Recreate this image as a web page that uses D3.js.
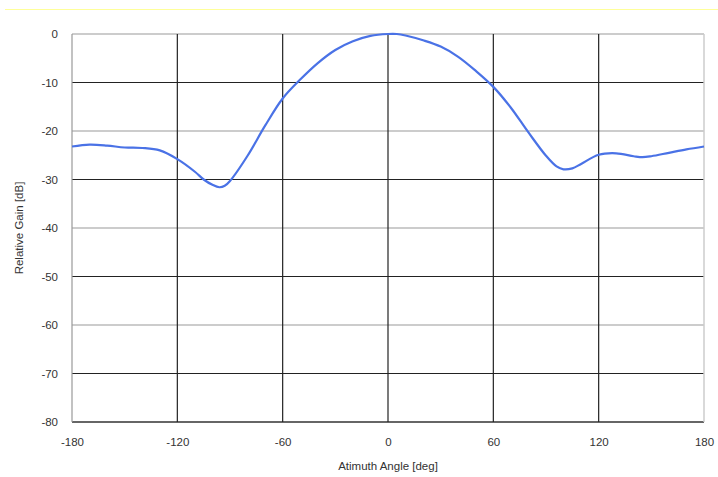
<!DOCTYPE html>
<html><head><meta charset="utf-8">
<script src="https://cdn.jsdelivr.net/npm/d3@7"></script>
<style>body{margin:0;background:#fff}svg{display:block}</style>
</head><body>
<svg id="c" width="718" height="477"></svg>
<script>
const angles = [-180,-170,-160,-150,-140,-130,-120,-110,-105,-100,-96,-93,-90,-80,-70,-60,-50,-40,-30,-20,-10,0,5,10,20,30,40,50,60,70,80,90,96,100,105,110,120,130,140,145,150,160,170,180];
const gains  = [-23.2,-22.8,-23.0,-23.4,-23.5,-24.0,-25.8,-28.4,-30.0,-31.1,-31.6,-31.3,-30.3,-25.1,-18.9,-13.3,-9.4,-6.0,-3.3,-1.5,-0.4,0,0,-0.3,-1.3,-2.6,-4.7,-7.6,-10.9,-15.2,-20.3,-25.1,-27.3,-27.9,-27.7,-26.8,-24.9,-24.6,-25.2,-25.4,-25.2,-24.5,-23.8,-23.2];
const xTicks = [-180,-120,-60,0,60,120,180];
const yTicks = [0,-10,-20,-30,-40,-50,-60,-70,-80];

const svg = d3.select("#c");
const L=72,R=704,T=34,B=422;
const x = d3.scaleLinear().domain([-180,180]).range([L,R]);
const y = d3.scaleLinear().domain([-80,0]).range([B,T]);
const font = "'Liberation Sans', Arial, sans-serif";

svg.append("line").attr("x1",5).attr("x2",718).attr("y1",9.5).attr("y2",9.5).attr("stroke","#ffff99").attr("stroke-width",1);

// horizontal grid
yTicks.forEach(v=>{
  let col = (v%20===0) ? "#999" : "#222";
  if (v===-80) col="#333";
  svg.append("line").attr("x1",L).attr("x2",R).attr("y1",y(v)).attr("y2",y(v))
    .attr("stroke",col).attr("stroke-width",v===-80?1.5:1.2);
});
// vertical grid
xTicks.forEach(v=>{
  let col = "#222";
  if (v===-180) col="#999";
  if (v===180) col="#ccc";
  svg.append("line").attr("x1",x(v)).attr("x2",x(v)).attr("y1",T).attr("y2",B)
    .attr("stroke",col).attr("stroke-width",v===180?1.5:1.2);
});

const line = d3.line().x((d,i)=>x(angles[i])).y((d,i)=>y(gains[i])).curve(d3.curveCatmullRom.alpha(0.5));
svg.append("path").datum(gains).attr("d",line).attr("fill","none").attr("stroke","#4a72e6").attr("stroke-width",2.2);

const yAxis = d3.axisLeft(y).tickValues(yTicks).tickSize(0).tickPadding(14).tickFormat(d=>String(d).replace("−","-"));
const gy = svg.append("g").attr("transform",`translate(${L},0)`).call(yAxis);
gy.select(".domain").remove();
gy.selectAll("text").attr("font-family",font).attr("font-size",11.5).attr("fill","#333");

const xAxis = d3.axisBottom(x).tickValues(xTicks).tickSize(0).tickPadding(16).tickFormat(d=>String(d).replace("−","-"));
const gx = svg.append("g").attr("transform",`translate(0,${B})`).call(xAxis);
gx.select(".domain").remove();
gx.selectAll("text").attr("font-family",font).attr("font-size",11.5).attr("fill","#333");

svg.append("text").attr("x",388).attr("y",470).attr("text-anchor","middle").attr("font-family",font).attr("font-size",11.5).attr("fill","#333").text("Atimuth Angle [deg]");
svg.append("text").attr("transform","translate(23,228) rotate(-90)").attr("text-anchor","middle").attr("font-family",font).attr("font-size",11.5).attr("fill","#333").text("Relative Gain [dB]");
</script>
</body></html>
